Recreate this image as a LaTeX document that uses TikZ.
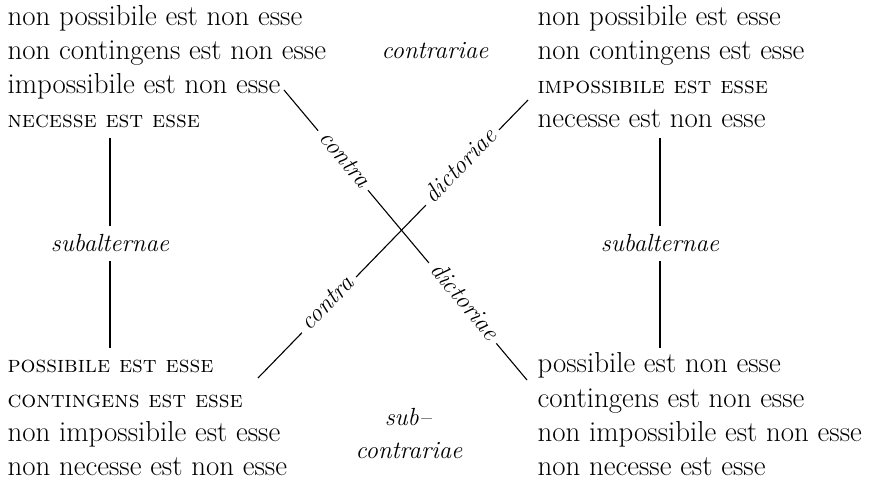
\documentclass[tikz,border=0pt]{standalone}
\usepackage{fontspec}
\usetikzlibrary{positioning}
\newcommand{\romfont}{\fontsize{28.9}{34}\selectfont}
\newcommand{\capfont}{\fontsize{23.5}{34}\selectfont\scshape}
\newcommand{\labfont}{\fontsize{24.8}{33}\selectfont\itshape}

\begin{document}
\begin{tikzpicture}[x=1pt,y=-1pt,line width=1.1pt,
	prop/.style={anchor=base west,inner sep=0pt,font=\romfont},
	capprop/.style={prop,font=\capfont},
	rel/.style={anchor=base,inner sep=0pt,font=\labfont},
	slab/.style={anchor=base,inner sep=8.5pt,font=\labfont},
	dlab/.style={sloped,fill=white,font=\labfont,inner xsep=6pt,inner ysep=2pt,text height=0.95em,text depth=0pt}]
			\useasboundingbox (0,0) rectangle (871,481);
			% upper left
			\node[prop] (tl1) at (7,26) {non possibile est non esse};
			\node[prop] (tl2) at (7,60) {non contingens est non esse};
			\node[prop] (tl3) at (7,94) {impossibile est non esse};
			\node[capprop] (tl4) at (7,128) {necesse est esse};
			% upper right
			\node[prop] (tr1) at (537,26) {non possibile est esse};
			\node[prop] (tr2) at (537,60) {non contingens est esse};
			\node[capprop] (tr3) at (537,94) {impossibile est esse};
			\node[prop] (tr4) at (537,128) {necesse est non esse};
			% lower left
			\node[capprop] (bl1) at (7,373) {possibile est esse};
			\node[capprop] (bl2) at (7,407) {contingens est esse};
			\node[prop] (bl3) at (7,441) {non impossibile est esse};
			\node[prop] (bl4) at (7,475) {non necesse est non esse};
			% lower right
			\node[prop] (br1) at (537,373) {possibile est non esse};
			\node[prop] (br2) at (537,407) {contingens est non esse};
			\node[prop] (br3) at (537,441) {non impossibile est non esse};
			\node[prop] (br4) at (537,475) {non necesse est esse};
			% relations
			\node[rel] (contr) at (435,59) {contrariae};
			\node[rel] (sub1) at (408,425) {sub--};
			\node[rel] (sub2) at (409,458) {contrariae};
			\node[slab] (subl) at (110,252) {subalternae};
			\node[slab] (subr) at (660,252) {subalternae};
			\coordinate (lt) at (110,138);
			\coordinate (lb) at (110,348);
			\coordinate (rt) at (660,138);
			\coordinate (rb) at (660,348);
			\draw (lt) -- (subl) -- (lb);
			\draw (rt) -- (subr) -- (rb);
			% diagonals
			\coordinate (d1s) at (284,90);
			\coordinate (d1e) at (527,380);
			\coordinate (d2s) at (258,378);
			\coordinate (d2e) at (528,100);
			\draw (d1s) -- node[dlab,pos=0.243] (c1) {contra} node[dlab,pos=0.735] (k1) {dictoriae} (d1e);
			\draw (d2s) -- node[dlab,pos=0.263] (c2) {contra} node[dlab,pos=0.757] (k2) {dictoriae} (d2e);
			\end{tikzpicture}
\end{document}
